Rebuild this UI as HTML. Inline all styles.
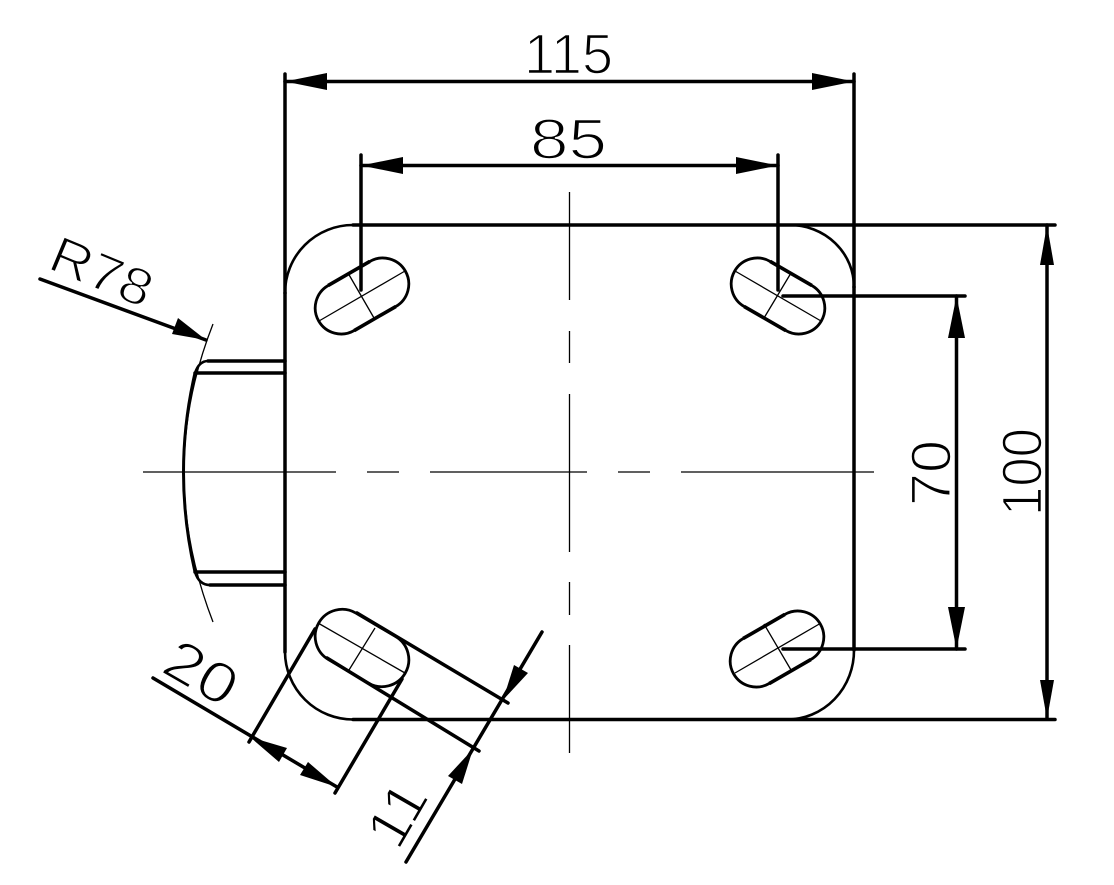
<!DOCTYPE html>
<html>
<head>
<meta charset="utf-8">
<style>
html,body{margin:0;padding:0;background:#fff;width:1114px;height:885px;overflow:hidden}
svg{display:block}
text{font-family:"Liberation Sans",sans-serif;font-size:57px;fill:#000;stroke:#fff;stroke-width:1.6px}
</style>
</head>
<body>
<svg width="1114" height="885" viewBox="0 0 1114 885" xmlns="http://www.w3.org/2000/svg">
<rect width="1114" height="885" fill="#fff"/>

<!-- Dimension text -->
<text x="524" y="73.5" textLength="89" lengthAdjust="spacingAndGlyphs">115</text>
<text x="530" y="158.5" textLength="77" lengthAdjust="spacingAndGlyphs">85</text>
<text transform="translate(950.5,506) rotate(-90)" x="0" y="0" textLength="66" lengthAdjust="spacingAndGlyphs">70</text>
<text transform="translate(1041.5,516) rotate(-90)" x="0" y="0" textLength="88" lengthAdjust="spacingAndGlyphs">100</text>
<text transform="translate(46,268) rotate(22.5)" x="0" y="0" style="font-size:52px" textLength="106" lengthAdjust="spacingAndGlyphs">R78</text>
<text transform="translate(159,671) rotate(30)" x="0" y="0" textLength="75" lengthAdjust="spacingAndGlyphs">20</text>
<text transform="translate(398,852) rotate(-60)" x="0" y="0" textLength="64" lengthAdjust="spacingAndGlyphs">11</text>

<!-- Thin centre lines -->
<g stroke="#000" stroke-width="1.3" fill="none">
<path d="M143 472H336M367 472H399M430 472H587M618 472H650M681 472H874"/>
<path d="M569.5 192V300M569.5 331V363M569.5 394V552M569.5 582V615M569.5 645V753"/>
<path d="M213 324Q155 472 213 622"/>
<path d="M319 321L405 271M348 273L374 318"/>
<path d="M735 271L821 321M791 273L764 318"/>
<path d="M735 673L821 623M764 624L791 670"/>
<path d="M318 623L405 673M375 628L349 670"/>
</g>

<!-- Outline: plate straight edges and dimension lines -->
<g stroke="#000" stroke-width="3.5" fill="none" stroke-linecap="round">
<path d="M285 74V293"/>
<path d="M854 74V287"/>
<path d="M285 293V652"/>
<path d="M854 287V650"/>
<path d="M353 225H1055"/>
<path d="M353 719.5H1055"/>
<path d="M285 81.5H854"/>
<path d="M361 155V290"/>
<path d="M778 155V290"/>
<path d="M361 165.5H778"/>
<path d="M783 296H965"/>
<path d="M783 649H965"/>
<path d="M956.5 296V649"/>
<path d="M1047 225V719"/>
<path d="M40 279L206 340"/>
<path d="M153 678L337 787"/>
<path d="M249 742L315 629"/>
<path d="M335 793L402 679"/>
<path d="M406 862L542 632"/>
<path d="M357 613L508 703"/>
<path d="M327 658L479 751"/>
<path d="M208 361H285M195 373H285M195 572H285M210 585H285"/>
</g>

<!-- Arcs -->
<g stroke="#000" stroke-width="2.6" fill="none">
<path d="M285 293A68 68 0 0 1 353 225"/>
<path d="M790 225A64 62 0 0 1 854 287"/>
<path d="M854 650A67 69 0 0 1 787 719.5"/>
<path d="M285 652A68 68 0 0 0 353 719.5"/>
<path d="M195 373Q199 361 208 361"/>
<path d="M195 572Q199 585 210 585"/>
<path d="M195 373Q172 472 195 572" stroke-width="3"/>
</g>

<!-- Slots -->
<g stroke="#000" stroke-width="2.8" fill="none">
<rect x="312" y="270" width="100" height="52" rx="26" transform="rotate(-30 362 296)"/>
<rect x="728" y="270" width="100" height="52" rx="26" transform="rotate(30 778 296)"/>
<rect x="727" y="623" width="100" height="52" rx="26" transform="rotate(-30 777 649)"/>
<rect x="312" y="621" width="100" height="54" rx="27" transform="rotate(30.5 362 648)"/>
</g>
<g stroke="#000" stroke-width="3.6" fill="none">
<path d="M-24 -26H24M-24 26H24" transform="translate(362 296) rotate(-30)"/>
<path d="M-24 -26H24M-24 26H24" transform="translate(778 296) rotate(30)"/>
<path d="M-24 -26H24M-24 26H24" transform="translate(777 649) rotate(-30)"/>
</g>

<!-- Arrowheads -->
<g fill="#000" stroke="none">
<path d="M285 81.5L327 73V90Z"/>
<path d="M854 81.5L812 73V90Z"/>
<path d="M361 165.5L403 157V174Z"/>
<path d="M778 165.5L736 157V174Z"/>
<path d="M956.5 296L948 338H965Z"/>
<path d="M956.5 649L948 607H965Z"/>
<path d="M1047 225L1040 265H1054Z"/>
<path d="M1047 719L1040 680H1054Z"/>
<path d="M206 340L172 334L178 318Z"/>
<path d="M250 737L287 748L279 762Z"/>
<path d="M337 787L300 775L308 762Z"/>
<path d="M473 749L462 784L448 776Z"/>
<path d="M503 700L514 665L528 673Z"/>
</g>
</svg>
</body>
</html>
